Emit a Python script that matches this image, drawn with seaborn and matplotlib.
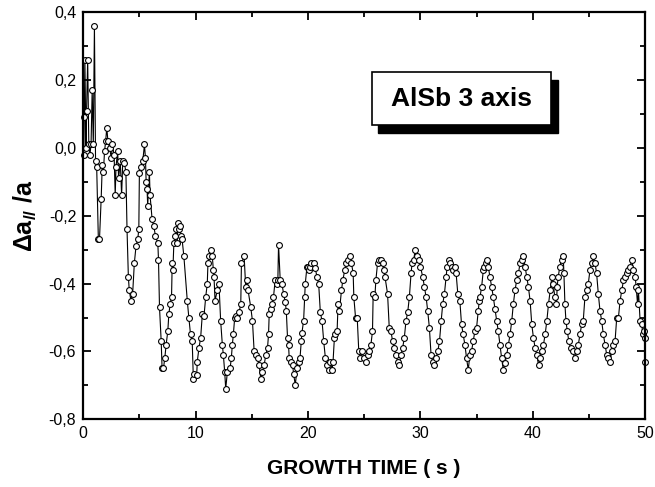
import matplotlib
matplotlib.use("Agg")
import matplotlib.pyplot as plt
import pandas as pd
import seaborn as sns
from matplotlib.patches import Rectangle
from matplotlib.ticker import FuncFormatter, MultipleLocator

# growth time (s) and in-plane strain
time_s = [
    0.05, 0.10, 0.15, 0.25, 0.30, 0.40, 0.50, 0.60, 0.70, 0.80, 0.90, 1.00, 1.10, 1.20,
    1.35, 1.45, 1.60, 1.70, 1.80, 1.90, 2.00, 2.10, 2.20, 2.35, 2.50, 2.60, 2.75, 2.85,
    2.92, 3.07, 3.15, 3.30, 3.42, 3.52, 3.66, 3.80, 3.90, 4.02, 4.10, 4.25, 4.40, 4.55,
    4.70, 4.85, 4.95, 5.00, 5.15, 5.30, 5.45, 5.54, 5.60, 5.68, 5.74, 5.89, 5.95, 6.13,
    6.28, 6.43, 6.64, 6.70, 6.79, 6.94, 7.02, 7.14, 7.26, 7.38, 7.53, 7.62, 7.74, 7.86,
    7.92, 7.98, 8.07, 8.20, 8.30, 8.36, 8.45, 8.52, 8.60, 8.70, 8.80, 8.96, 9.26, 9.40,
    9.55, 9.70, 9.80, 9.90, 10.10, 10.15, 10.30, 10.45, 10.60, 10.75, 10.90, 11.04, 11.10,
    11.19, 11.34, 11.49, 11.58, 11.64, 11.73, 11.93, 12.08, 12.23, 12.38, 12.47, 12.59,
    12.68, 12.83, 13.07, 13.18, 13.27, 13.36, 13.48, 13.57, 13.72, 13.87, 14.02, 14.08,
    14.32, 14.46, 14.61, 14.67, 14.91, 15.06, 15.21, 15.36, 15.51, 15.65, 15.80, 15.95,
    16.10, 16.25, 16.40, 16.49, 16.55, 16.70, 16.79, 16.93, 17.08, 17.23, 17.32, 17.38,
    17.53, 17.68, 17.83, 17.98, 18.07, 18.18, 18.27, 18.33, 18.51, 18.63, 18.72, 18.87,
    19.02, 19.17, 19.29, 19.40, 19.46, 19.61, 19.70, 19.76, 19.91, 20.00, 20.06, 20.15,
    20.30, 20.51, 20.65, 20.80, 20.95, 21.10, 21.25, 21.40, 21.55, 21.70, 21.85, 21.99,
    22.14, 22.23, 22.35, 22.44, 22.59, 22.68, 22.80, 22.98, 23.10, 23.27, 23.39, 23.57,
    23.78, 23.87, 24.02, 24.08, 24.23, 24.38, 24.52, 24.67, 24.82, 24.97, 25.15, 25.30,
    25.45, 25.60, 25.74, 25.80, 25.95, 26.04, 26.19, 26.34, 26.49, 26.64, 26.73, 26.85,
    27.08, 27.23, 27.38, 27.53, 27.68, 27.83, 27.98, 28.13, 28.27, 28.42, 28.57, 28.72,
    28.87, 29.02, 29.17, 29.26, 29.40, 29.55, 29.70, 29.85, 30.00, 30.21, 30.36, 30.51,
    30.65, 30.80, 30.95, 31.10, 31.25, 31.40, 31.55, 31.70, 31.85, 31.99, 32.14, 32.29,
    32.38, 32.53, 32.65, 32.80, 32.89, 33.04, 33.18, 33.33, 33.51, 33.66, 33.81, 33.96,
    34.11, 34.26, 34.40, 34.55, 34.70, 34.85, 35.00, 35.15, 35.24, 35.30, 35.45, 35.60,
    35.68, 35.80, 35.89, 36.04, 36.19, 36.34, 36.49, 36.64, 36.79, 36.93, 37.08, 37.23,
    37.38, 37.53, 37.68, 37.83, 37.98, 38.13, 38.27, 38.42, 38.57, 38.72, 38.87, 39.02,
    39.17, 39.32, 39.46, 39.61, 39.76, 39.91, 40.06, 40.21, 40.36, 40.51, 40.65, 40.80,
    40.95, 41.10, 41.25, 41.40, 41.55, 41.70, 41.82, 41.96, 42.11, 42.17, 42.26, 42.41,
    42.56, 42.71, 42.77, 42.86, 42.95, 43.07, 43.21, 43.36, 43.54, 43.75, 43.90, 44.05,
    44.20, 44.35, 44.49, 44.64, 44.79, 44.94, 45.09, 45.24, 45.39, 45.54, 45.68, 45.83,
    45.98, 46.13, 46.28, 46.43, 46.58, 46.73, 46.88, 47.02, 47.17, 47.32, 47.47, 47.62,
    47.77, 47.92, 48.07, 48.21, 48.36, 48.51, 48.66, 48.81, 48.96, 49.11, 49.20, 49.32,
    49.40, 49.55, 49.70, 49.79, 49.91, 49.96, 50.00,
]
strain = [
    -0.02, 0.09, 0.26, 0.00, 0.11, 0.26, 0.01, -0.02, 0.01, 0.17, 0.01, 0.36, -0.04, -0.055,
    -0.27, -0.27, -0.15, -0.05, -0.07, -0.01, 0.02, 0.06, 0.02, 0.00, -0.03, 0.01, -0.02, -0.14,
    -0.055, -0.01, -0.09, -0.04, -0.14, -0.04, -0.045, -0.07, -0.24, -0.38, -0.42, -0.45, -0.43, -0.34,
    -0.29, -0.27, -0.24, -0.075, -0.055, -0.04, 0.01, -0.03, -0.10, -0.12, -0.17, -0.07, -0.14, -0.21,
    -0.23, -0.26, -0.28, -0.33, -0.47, -0.57, -0.65, -0.65, -0.62, -0.58, -0.54, -0.49, -0.46, -0.44,
    -0.34, -0.36, -0.28, -0.26, -0.24, -0.28, -0.22, -0.24, -0.23, -0.26, -0.27, -0.32, -0.45, -0.50,
    -0.55, -0.57, -0.68, -0.665, -0.67, -0.63, -0.59, -0.56, -0.49, -0.495, -0.44, -0.40, -0.34,
    -0.32, -0.30, -0.32, -0.36, -0.38, -0.45, -0.42, -0.40, -0.51, -0.58, -0.61, -0.66,
    -0.71, -0.66, -0.65, -0.62, -0.58, -0.55, -0.50, -0.495, -0.50, -0.485, -0.46, -0.34,
    -0.32, -0.41, -0.39, -0.42, -0.47, -0.51, -0.60, -0.61, -0.62, -0.64, -0.68, -0.66,
    -0.64, -0.61, -0.59, -0.55, -0.49, -0.475, -0.46, -0.44, -0.39, -0.40, -0.39, -0.285,
    -0.39, -0.40, -0.43, -0.455, -0.48, -0.56, -0.58, -0.62, -0.63, -0.64, -0.665, -0.70,
    -0.65, -0.63, -0.62, -0.57, -0.545, -0.51, -0.44, -0.40, -0.35, -0.35, -0.36, -0.35,
    -0.34, -0.34, -0.355, -0.38, -0.40, -0.485, -0.51, -0.57, -0.62, -0.64, -0.655, -0.63,
    -0.655, -0.63, -0.56, -0.55, -0.54, -0.46, -0.48, -0.42, -0.39, -0.36, -0.34, -0.33,
    -0.32, -0.34, -0.37, -0.44, -0.50, -0.50, -0.60, -0.62, -0.60, -0.62, -0.63, -0.61,
    -0.60, -0.58, -0.54, -0.43, -0.44, -0.39, -0.34, -0.33, -0.33, -0.34, -0.36, -0.38,
    -0.43, -0.53, -0.54, -0.57, -0.59, -0.61, -0.63, -0.64, -0.61, -0.59, -0.56, -0.51,
    -0.485, -0.44, -0.37, -0.34, -0.33, -0.30, -0.32, -0.33, -0.35, -0.38, -0.41, -0.44,
    -0.48, -0.53, -0.61, -0.63, -0.64, -0.62, -0.60, -0.57, -0.51, -0.46, -0.43, -0.38,
    -0.35, -0.33, -0.34, -0.35, -0.36, -0.35, -0.37, -0.43, -0.45, -0.52, -0.55, -0.58,
    -0.62, -0.655, -0.61, -0.60, -0.57, -0.54, -0.53, -0.48, -0.45, -0.44, -0.41, -0.36,
    -0.35, -0.34, -0.33, -0.35, -0.38, -0.41, -0.44, -0.475, -0.51, -0.54, -0.58, -0.62,
    -0.655, -0.635, -0.61, -0.58, -0.55, -0.51, -0.46, -0.42, -0.39, -0.37, -0.34, -0.33,
    -0.32, -0.35, -0.38, -0.41, -0.45, -0.52, -0.56, -0.59, -0.61, -0.64, -0.62, -0.60,
    -0.58, -0.55, -0.51, -0.46, -0.42, -0.38, -0.40, -0.44, -0.46, -0.41, -0.38, -0.35,
    -0.33, -0.32, -0.37, -0.46, -0.51, -0.54, -0.57, -0.59, -0.60, -0.62, -0.60, -0.58,
    -0.55, -0.52, -0.51, -0.44, -0.42, -0.40, -0.36, -0.34, -0.32, -0.34, -0.37, -0.43,
    -0.48, -0.51, -0.55, -0.58, -0.61, -0.62, -0.63, -0.60, -0.58, -0.57, -0.50, -0.50,
    -0.45, -0.42, -0.39, -0.38, -0.37, -0.36, -0.35, -0.33, -0.36, -0.38, -0.41, -0.46,
    -0.42, -0.51, -0.52, -0.55, -0.54, -0.56, -0.63,
]

x_ticks = [0, 10, 20, 30, 40, 50]
y_ticks = [-0.8, -0.6, -0.4, -0.2, 0.0, 0.2, 0.4]
label_text = "AlSb 3 axis"


def comma_fmt(v, _pos):
    s = f"{v:.1f}".replace(".", ",")
    return "0,0" if s in ("-0,0", "0,0") else s


sns.set_theme(style="ticks")
plt.rcParams["font.family"] = ["Liberation Sans", "DejaVu Sans"]
plt.rcParams["axes.unicode_minus"] = False
plt.rcParams["mathtext.fontset"] = "custom"
plt.rcParams["mathtext.rm"] = "Liberation Sans:bold"
plt.rcParams["mathtext.bf"] = "Liberation Sans:bold"
plt.rcParams["mathtext.it"] = "Liberation Sans:italic:bold"
for key in ["text.color", "axes.labelcolor", "xtick.color", "ytick.color", "axes.edgecolor"]:
    plt.rcParams[key] = "black"

df = pd.DataFrame({"t": time_s, "da": strain})

fig = plt.figure(figsize=(6.55, 4.87), dpi=100)
ax = fig.add_axes([0.127, 0.139, 0.858, 0.836])

sns.lineplot(data=df, x="t", y="da", sort=False, estimator=None, ax=ax,
             color="black", linewidth=0.8, marker="o", markersize=4.2,
             markerfacecolor="white", markeredgecolor="black", markeredgewidth=0.8,
             clip_on=False)

ax.set_xlim(0, 50)
ax.set_ylim(-0.8, 0.4)
ax.set_xticks(x_ticks)
ax.set_yticks(y_ticks)
ax.xaxis.set_minor_locator(MultipleLocator(5))
ax.yaxis.set_minor_locator(MultipleLocator(0.1))
ax.yaxis.set_major_formatter(FuncFormatter(comma_fmt))
ax.tick_params(which="both", direction="in", top=True, right=True, width=1.3,
               labelsize=11.5, colors="black", pad=5)
ax.tick_params(which="major", length=6)
ax.tick_params(which="minor", length=3.5)
for sp in ax.spines.values():
    sp.set_linewidth(1.6)
    sp.set_color("black")

ax.set_xlabel("GROWTH TIME ( s )", fontsize=15, fontweight="bold", labelpad=13)
ax.set_ylabel(r"$\Delta\mathrm{a}_{\mathit{//}}\ \mathrm{/a}$", fontsize=18, labelpad=8)

# label box with drop shadow
shadow = Rectangle((0.525, 0.703), 0.319, 0.131, transform=ax.transAxes,
                   facecolor="black", edgecolor="black", zorder=4)
ax.add_patch(shadow)
box = Rectangle((0.514, 0.722), 0.319, 0.131, transform=ax.transAxes,
                facecolor="white", edgecolor="black", linewidth=1.2, zorder=5)
ax.add_patch(box)
ax.text(0.6735, 0.787, label_text, transform=ax.transAxes, ha="center", va="center",
        fontsize=19, fontweight="bold", zorder=6)

fig.savefig("out.png", dpi=100)
